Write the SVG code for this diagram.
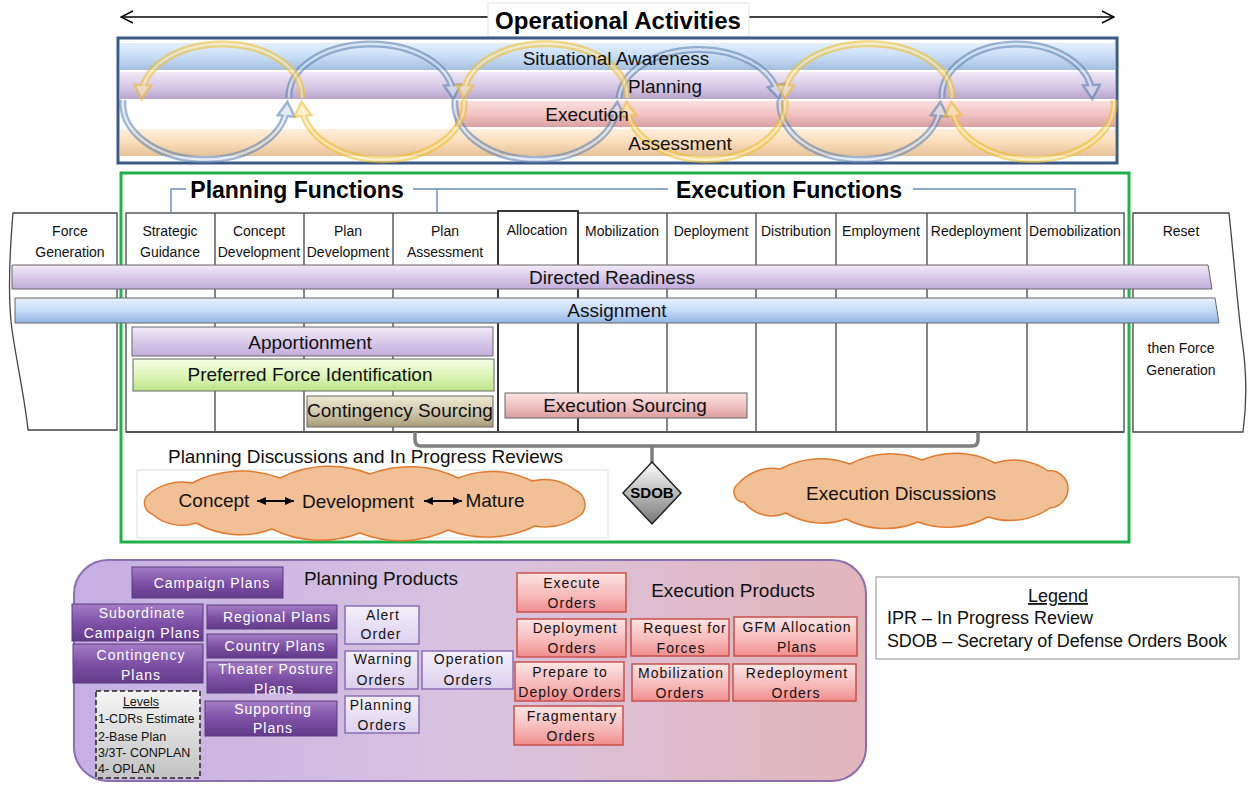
<svg xmlns="http://www.w3.org/2000/svg" width="1249" height="785" viewBox="0 0 1249 785">
<defs>
<style>
text{font-family:"Liberation Sans",Arial,sans-serif;}
.hdr{font-size:14px;text-anchor:middle;fill:#111;}
.l19{font-size:19px;text-anchor:middle;fill:#111;}
.bold{font-weight:bold;}
.pt{font-size:14px;letter-spacing:1px;text-anchor:middle;fill:#fff;}
.dt{font-size:14px;letter-spacing:1px;text-anchor:middle;fill:#111;}
.lv{font-size:12.5px;fill:#111;}
.cell{fill:#fff;stroke:#444;stroke-width:1.3;}
.vl{stroke:#444;stroke-width:1.3;}
.band{stroke:#666;stroke-width:1;}
.conn{fill:none;stroke:#6d8fc0;stroke-width:1.5;}
.brk{fill:none;stroke:#7f7f7f;stroke-width:3.5;}
.pbtn{fill:url(#gPur);stroke:#5b3a80;stroke-width:1;}
.lbox{fill:url(#gLav);stroke:#8a6fb5;stroke-width:1.5;}
.rbox{fill:url(#gPink);stroke:#c9504c;stroke-width:1.5;}
.cloud{fill:#f2c097;stroke:#e07c32;stroke-width:1.5;}
.bo{fill:none;stroke:#5f84b3;stroke-width:7;}
.bi{fill:none;stroke:#d5e0ee;stroke-width:2.5;}
.yo{fill:none;stroke:#f0c030;stroke-width:7;}
.yi{fill:none;stroke:#fbeab0;stroke-width:2.5;}
</style>
<linearGradient id="gSA" x1="0" y1="0" x2="0" y2="1"><stop offset="0" stop-color="#e6f0fc"/><stop offset="0.5" stop-color="#c8ddf5"/><stop offset="1" stop-color="#a6bfde"/></linearGradient>
<linearGradient id="gPL" x1="0" y1="0" x2="0" y2="1"><stop offset="0" stop-color="#efe8f5"/><stop offset="0.5" stop-color="#d9cbe7"/><stop offset="1" stop-color="#b8a6cc"/></linearGradient>
<linearGradient id="gEX" x1="0" y1="0" x2="0" y2="1"><stop offset="0" stop-color="#fae0e0"/><stop offset="0.5" stop-color="#f3c4c4"/><stop offset="1" stop-color="#d8a1a1"/></linearGradient>
<linearGradient id="gAS" x1="0" y1="0" x2="0" y2="1"><stop offset="0" stop-color="#fef0e0"/><stop offset="0.5" stop-color="#fbdcb9"/><stop offset="1" stop-color="#e4c19b"/></linearGradient>
<linearGradient id="gDR" x1="0" y1="0" x2="0" y2="1"><stop offset="0" stop-color="#f1ebf8"/><stop offset="0.5" stop-color="#d9caea"/><stop offset="1" stop-color="#c2addb"/></linearGradient>
<linearGradient id="gAsg" x1="0" y1="0" x2="0" y2="1"><stop offset="0" stop-color="#e8f1fd"/><stop offset="0.5" stop-color="#c5dbf7"/><stop offset="1" stop-color="#93b6e6"/></linearGradient>
<linearGradient id="gPFI" x1="0" y1="0" x2="0" y2="1"><stop offset="0" stop-color="#f6fde8"/><stop offset="0.5" stop-color="#def6b9"/><stop offset="1" stop-color="#bce589"/></linearGradient>
<linearGradient id="gCS" x1="0" y1="0" x2="0" y2="1"><stop offset="0" stop-color="#efe9d3"/><stop offset="0.5" stop-color="#d3cab0"/><stop offset="1" stop-color="#a89c76"/></linearGradient>
<linearGradient id="gES" x1="0" y1="0" x2="0" y2="1"><stop offset="0" stop-color="#fbe5e5"/><stop offset="0.5" stop-color="#f0c2c2"/><stop offset="1" stop-color="#dc9e9e"/></linearGradient>
<linearGradient id="gPur" x1="0" y1="0" x2="0" y2="1"><stop offset="0" stop-color="#a47dc5"/><stop offset="0.5" stop-color="#7e52a6"/><stop offset="1" stop-color="#633a8a"/></linearGradient>
<linearGradient id="gLav" x1="0" y1="0" x2="0" y2="1"><stop offset="0" stop-color="#f4f0fa"/><stop offset="1" stop-color="#dcd0ee"/></linearGradient>
<linearGradient id="gPink" x1="0" y1="0" x2="0" y2="1"><stop offset="0" stop-color="#fde6e6"/><stop offset="0.6" stop-color="#f7b7b7"/><stop offset="1" stop-color="#f08d8d"/></linearGradient>
<linearGradient id="gGray" x1="0" y1="0" x2="0" y2="1"><stop offset="0" stop-color="#f6f6f6"/><stop offset="1" stop-color="#c2c2c2"/></linearGradient>
<linearGradient id="gProd" x1="0" y1="0" x2="1" y2="0"><stop offset="0" stop-color="#c5afe3"/><stop offset="0.5" stop-color="#d8c3e0"/><stop offset="1" stop-color="#e2b5ba"/></linearGradient>
<linearGradient id="gDia" x1="0" y1="0" x2="0" y2="1"><stop offset="0" stop-color="#ffffff"/><stop offset="1" stop-color="#777777"/></linearGradient>
<marker id="mOpen" markerUnits="userSpaceOnUse" markerWidth="14" markerHeight="14" viewBox="0 0 14 14" refX="13" refY="7" orient="auto-start-reverse"><path d="M1,1 L13,7 L1,13" fill="none" stroke="#000" stroke-width="1.4"/></marker>
<marker id="mDbl" markerUnits="userSpaceOnUse" markerWidth="9" markerHeight="8" viewBox="0 0 9 8" refX="9" refY="4" orient="auto-start-reverse"><path d="M0,0 L9,4 L0,8 Z" fill="#000"/></marker>
<marker id="mB" markerUnits="userSpaceOnUse" markerWidth="18" markerHeight="20" viewBox="0 0 18 20" refX="11" refY="10" orient="auto"><path d="M2,1.5 L16,10 L2,18.5 Z" fill="#d5e0ee" stroke="#5f84b3" stroke-width="2.5"/></marker>
<marker id="mY" markerUnits="userSpaceOnUse" markerWidth="18" markerHeight="20" viewBox="0 0 18 20" refX="11" refY="10" orient="auto"><path d="M2,1.5 L16,10 L2,18.5 Z" fill="#fbeab0" stroke="#f0c030" stroke-width="2.5"/></marker>
</defs>
<rect width="1249" height="785" fill="#fff"/>

<!-- Operational activities -->
<g id="operational-activities">
<line x1="121" y1="17" x2="1114" y2="17" stroke="#000" stroke-width="1.4" marker-start="url(#mOpen)" marker-end="url(#mOpen)"/>
<rect x="488" y="3" width="261" height="34" fill="#fff" stroke="#e6e6e6" stroke-width="1"/>
<text x="618" y="29" class="bold" font-size="24" text-anchor="middle" fill="#000">Operational Activities</text>
<rect x="118" y="38" width="999" height="125" fill="#fff" stroke="#3c5a86" stroke-width="3"/>
<rect x="120" y="43" width="995" height="27" fill="url(#gSA)"/>
<rect x="120" y="72" width="995" height="27" fill="url(#gPL)"/>
<rect x="455" y="101" width="660" height="26" fill="url(#gEX)"/>
<rect x="120" y="129" width="995" height="27" fill="url(#gAS)"/>
<g opacity="0.6">
<path class="bo" d="M123,100 A82,56 0 0 0 287,107" marker-end="url(#mB)"/><path class="bi" d="M123,100 A82,56 0 0 0 287,107"/>
<path class="bo" d="M289,98 A82,52 0 0 1 453,94" marker-end="url(#mB)"/><path class="bi" d="M289,98 A82,52 0 0 1 453,94"/>
<path class="bo" d="M455,100 A81,56 0 0 0 617,107" marker-end="url(#mB)"/><path class="bi" d="M455,100 A81,56 0 0 0 617,107"/>
<path class="bo" d="M619,98 A80,52 0 0 1 778,94" marker-end="url(#mB)"/><path class="bi" d="M619,98 A80,52 0 0 1 778,94"/>
<path class="bo" d="M780,100 A80,56 0 0 0 940,107" marker-end="url(#mB)"/><path class="bi" d="M780,100 A80,56 0 0 0 940,107"/>
<path class="bo" d="M942,98 A75,52 0 0 1 1092,94" marker-end="url(#mB)"/><path class="bi" d="M942,98 A75,52 0 0 1 1092,94"/>
</g>
<g opacity="0.6">
<path class="yo" d="M302,98 A80,52 0 0 0 142,94" marker-end="url(#mY)"/><path class="yi" d="M302,98 A80,52 0 0 0 142,94"/>
<path class="yo" d="M464,100 A81,56 0 0 1 302,107" marker-end="url(#mY)"/><path class="yi" d="M464,100 A81,56 0 0 1 302,107"/>
<path class="yo" d="M627,98 A81,52 0 0 0 464,94" marker-end="url(#mY)"/><path class="yi" d="M627,98 A81,52 0 0 0 464,94"/>
<path class="yo" d="M785,100 A79,56 0 0 1 627,107" marker-end="url(#mY)"/><path class="yi" d="M785,100 A79,56 0 0 1 627,107"/>
<path class="yo" d="M952,98 A83,52 0 0 0 785,94" marker-end="url(#mY)"/><path class="yi" d="M952,98 A83,52 0 0 0 785,94"/>
<path class="yo" d="M1114,100 A81,56 0 0 1 952,107" marker-end="url(#mY)"/><path class="yi" d="M1114,100 A81,56 0 0 1 952,107"/>
</g>
<text x="616" y="65" class="l19">Situational Awareness</text>
<text x="665" y="93" class="l19">Planning</text>
<text x="587" y="121" class="l19">Execution</text>
<text x="680" y="150" class="l19">Assessment</text>
</g>

<!-- Functions frame -->
<g id="functions-frame">
<rect x="121" y="173" width="1008" height="369" fill="none" stroke="#21b04b" stroke-width="3"/>
<text x="297" y="198" class="bold" font-size="23" text-anchor="middle" fill="#000">Planning Functions</text>
<text x="789" y="198" class="bold" font-size="23" text-anchor="middle" fill="#000">Execution Functions</text>
</g>

<g id="force-generation">
<path class="cell" d="M13,213 H117 V430 H28 C25,400 18,370 12,330 C8,300 9,260 13,213 Z"/>
<text x="70" y="236" class="hdr">Force</text>
<text x="70" y="257" class="hdr">Generation</text>
</g>

<g id="reset">
<path class="cell" d="M1133,213 H1229 C1234,260 1238,310 1242,340 C1248,380 1246,410 1243,432 H1133 Z"/>
<text x="1181" y="236" class="hdr">Reset</text>
<text x="1181" y="353" class="hdr">then Force</text>
<text x="1181" y="375" class="hdr">Generation</text>
</g>

<g id="function-columns">
<rect class="cell" x="126" y="213" width="998" height="219"/>
<line class="vl" x1="215" y1="213" x2="215" y2="432"/>
<line class="vl" x1="304" y1="213" x2="304" y2="432"/>
<line class="vl" x1="393" y1="213" x2="393" y2="432"/>
<line class="vl" x1="667" y1="213" x2="667" y2="432"/>
<line class="vl" x1="756" y1="213" x2="756" y2="432"/>
<line class="vl" x1="836" y1="213" x2="836" y2="432"/>
<line class="vl" x1="927" y1="213" x2="927" y2="432"/>
<line class="vl" x1="1027" y1="213" x2="1027" y2="432"/>
<rect x="498" y="211" width="80" height="221" fill="#fff" stroke="#222" stroke-width="1.8"/>
<line x1="126" y1="432" x2="1124" y2="432" stroke="#555" stroke-width="2"/>
<text x="170" y="236" class="hdr">Strategic</text><text x="170" y="257" class="hdr">Guidance</text>
<text x="259" y="236" class="hdr">Concept</text><text x="259" y="257" class="hdr">Development</text>
<text x="348" y="236" class="hdr">Plan</text><text x="348" y="257" class="hdr">Development</text>
<text x="445" y="236" class="hdr">Plan</text><text x="445" y="257" class="hdr">Assessment</text>
<text x="537" y="235" class="hdr">Allocation</text>
<text x="622" y="236" class="hdr">Mobilization</text>
<text x="711" y="236" class="hdr">Deployment</text>
<text x="796" y="236" class="hdr">Distribution</text>
<text x="881" y="236" class="hdr">Employment</text>
<text x="976" y="236" class="hdr">Redeployment</text>
<text x="1075" y="236" class="hdr">Demobilization</text>
</g>

<g id="directed-readiness">
<path class="band" d="M12,265 H1208 L1212,289 H12 Z" fill="url(#gDR)"/>
<text x="612" y="284" class="l19">Directed Readiness</text>
</g>
<g id="assignment">
<path class="band" d="M15,298 H1215 L1219,323 H15 Z" fill="url(#gAsg)"/>
<text x="617" y="317" class="l19">Assignment</text>
</g>
<g id="apportionment">
<rect class="band" x="132" y="327" width="361" height="29" fill="url(#gDR)"/>
<text x="310" y="349" class="l19">Apportionment</text>
</g>
<g id="preferred-force-identification">
<rect class="band" x="133" y="359" width="361" height="32" fill="url(#gPFI)"/>
<text x="310" y="381" class="l19">Preferred Force Identification</text>
</g>
<g id="contingency-sourcing">
<rect class="band" x="307" y="396" width="186" height="31" fill="url(#gCS)"/>
<text x="400" y="417" class="l19" font-size="18">Contingency Sourcing</text>
</g>
<g id="execution-sourcing">
<rect class="band" x="505" y="393" width="242" height="25" fill="url(#gES)"/>
<text x="625" y="412" class="l19">Execution Sourcing</text>
</g>

<g id="connectors">
<path class="conn" d="M171,213 V189 H186"/>
<path class="conn" d="M413,189 H668 M437,189 V213"/>
<path class="conn" d="M913,189 H1075 V213"/>
<path class="brk" d="M415,432 V440 Q415,446 421,446 H972 Q978,446 978,440 V432"/>
<path class="brk" d="M652,446 V463"/>
<line x1="148" y1="683" x2="148" y2="691" stroke="#111" stroke-width="2.5"/>
</g>

<g id="sdob">
<polygon points="652,462 681,493 652,524 623,493" fill="url(#gDia)" stroke="#222" stroke-width="1.5"/>
<text x="652" y="498" class="bold" font-size="15" text-anchor="middle" fill="#000">SDOB</text>
</g>

<g id="planning-discussions">
<text x="168" y="463" font-size="19" fill="#111" textLength="395" lengthAdjust="spacing">Planning Discussions and In Progress Reviews</text>
<rect x="137" y="470" width="471" height="68" fill="#fff" stroke="#e0e0e0" stroke-width="1"/>
<path class="cloud" d="M146,497 A50,50 0 0 1 192,483 A110,110 0 0 1 280,478 A110,110 0 0 1 370,474 A110,110 0 0 1 458,478 A90,90 0 0 1 532,481 A50,50 0 0 1 575,490 A16,16 0 0 1 582,514 A60,60 0 0 1 535,526 A110,110 0 0 1 448,530 A110,110 0 0 1 360,533 A110,110 0 0 1 272,529 A90,90 0 0 1 196,523 A45,45 0 0 1 152,514 A12,12 0 0 1 146,497 Z"/>
<text x="214" y="507" class="l19">Concept</text>
<text x="358" y="508" class="l19">Development</text>
<text x="495" y="507" class="l19">Mature</text>
<line x1="257" y1="501" x2="294" y2="501" stroke="#000" stroke-width="2" marker-start="url(#mDbl)" marker-end="url(#mDbl)"/>
<line x1="424" y1="501" x2="462" y2="501" stroke="#000" stroke-width="2" marker-start="url(#mDbl)" marker-end="url(#mDbl)"/>
</g>

<g id="execution-discussions">
<path class="cloud" d="M738,484 A45,45 0 0 1 780,469 A85,85 0 0 1 850,464 A85,85 0 0 1 922,460 A85,85 0 0 1 995,463 A60,60 0 0 1 1048,471 A18,18 0 0 1 1068,490 A20,20 0 0 1 1050,508 A70,70 0 0 1 988,517 A85,85 0 0 1 918,522 A85,85 0 0 1 846,519 A70,70 0 0 1 786,513 A35,35 0 0 1 744,502 A10,10 0 0 1 738,484 Z"/>
<text x="901" y="500" class="l19" font-size="18">Execution Discussions</text>
</g>

<!-- Products -->
<g id="products-panel">
<rect x="74" y="560" width="792" height="221" rx="34" fill="url(#gProd)" stroke="#8a70b0" stroke-width="2"/>
<text x="381" y="585" class="l19">Planning Products</text>
<text x="733" y="597" class="l19">Execution Products</text>
</g>

<g id="campaign-plans"><rect class="pbtn" x="132" y="567" width="151" height="31"/><text x="212" y="588" class="pt">Campaign Plans</text></g>
<g id="subordinate-campaign-plans"><rect class="pbtn" x="72" y="604" width="131" height="37"/><text x="142" y="618" class="pt">Subordinate</text><text x="142" y="638" class="pt">Campaign Plans</text></g>
<g id="contingency-plans"><rect class="pbtn" x="73" y="644" width="130" height="39"/><text x="141" y="660" class="pt">Contingency</text><text x="141" y="680" class="pt">Plans</text></g>
<g id="regional-plans"><rect class="pbtn" x="207" y="605" width="130" height="24"/><text x="277" y="622" class="pt">Regional Plans</text></g>
<g id="country-plans"><rect class="pbtn" x="207" y="634" width="130" height="24"/><text x="275" y="651" class="pt">Country Plans</text></g>
<g id="theater-posture-plans"><rect class="pbtn" x="207" y="662" width="130" height="31"/><text x="276" y="674" class="pt">Theater Posture</text><text x="274" y="694" class="pt">Plans</text></g>
<g id="supporting-plans"><rect class="pbtn" x="205" y="701" width="132" height="35"/><text x="273" y="714" class="pt">Supporting</text><text x="273" y="733" class="pt">Plans</text></g>
<g id="levels">
<rect x="96" y="691" width="104" height="87" fill="url(#gGray)" stroke="#222" stroke-width="1.5" stroke-dasharray="5,3"/>
<text x="141" y="706" class="lv" text-anchor="middle" text-decoration="underline">Levels</text>
<text x="98" y="723" class="lv">1-CDRs Estimate</text>
<text x="98" y="741" class="lv">2-Base Plan</text>
<text x="98" y="757" class="lv">3/3T- CONPLAN</text>
<text x="98" y="773" class="lv">4- OPLAN</text>
</g>
<g id="alert-order"><rect class="lbox" x="345" y="606" width="74" height="38"/><text x="383" y="620" class="dt">Alert</text><text x="381" y="639" class="dt">Order</text></g>
<g id="warning-orders"><rect class="lbox" x="345" y="651" width="73" height="38"/><text x="383" y="664" class="dt">Warning</text><text x="381" y="685" class="dt">Orders</text></g>
<g id="planning-orders"><rect class="lbox" x="345" y="696" width="74" height="37"/><text x="381" y="710" class="dt">Planning</text><text x="382" y="730" class="dt">Orders</text></g>
<g id="operation-orders"><rect class="lbox" x="422" y="651" width="91" height="38"/><text x="469" y="664" class="dt">Operation</text><text x="468" y="685" class="dt">Orders</text></g>

<g id="execute-orders"><rect class="rbox" x="517" y="573" width="109" height="39"/><text x="572" y="588" class="dt">Execute</text><text x="572" y="608" class="dt">Orders</text></g>
<g id="deployment-orders"><rect class="rbox" x="517" y="619" width="109" height="38"/><text x="575" y="633" class="dt">Deployment</text><text x="572" y="653" class="dt">Orders</text></g>
<g id="prepare-to-deploy-orders"><rect class="rbox" x="515" y="662" width="109" height="39"/><text x="570" y="677" class="dt">Prepare to</text><text x="570" y="697" class="dt">Deploy Orders</text></g>
<g id="fragmentary-orders"><rect class="rbox" x="514" y="706" width="109" height="39"/><text x="572" y="721" class="dt">Fragmentary</text><text x="571" y="741" class="dt">Orders</text></g>
<g id="request-for-forces"><rect class="rbox" x="631" y="619" width="98" height="37"/><text x="685" y="633" class="dt">Request for</text><text x="681" y="653" class="dt">Forces</text></g>
<g id="mobilization-orders"><rect class="rbox" x="632" y="664" width="97" height="37"/><text x="681" y="678" class="dt">Mobilization</text><text x="680" y="698" class="dt">Orders</text></g>
<g id="gfm-allocation-plans"><rect class="rbox" x="734" y="617" width="123" height="39"/><text x="797" y="632" class="dt">GFM Allocation</text><text x="797" y="652" class="dt">Plans</text></g>
<g id="redeployment-orders"><rect class="rbox" x="733" y="664" width="123" height="37"/><text x="797" y="678" class="dt">Redeployment</text><text x="796" y="698" class="dt">Orders</text></g>

<g id="legend">
<rect x="876" y="577" width="363" height="82" fill="#fff" stroke="#a0a0a0" stroke-width="1.2"/>
<text x="1058" y="602" font-size="18" text-anchor="middle" fill="#111" text-decoration="underline">Legend</text>
<text x="887" y="624" font-size="18" fill="#111">IPR – In Progress Review</text>
<text x="887" y="647" font-size="18" fill="#111" textLength="340" lengthAdjust="spacing">SDOB – Secretary of Defense Orders Book</text>
</g>
</svg>
